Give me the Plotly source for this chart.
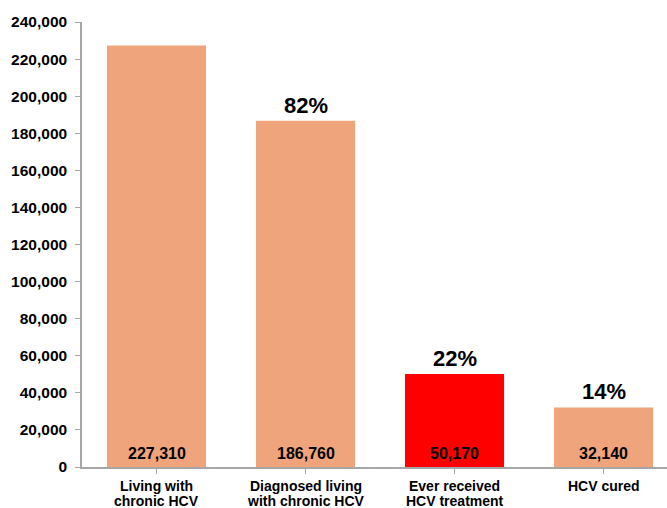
import plotly.graph_objects as go

categories = ["Living with<br>chronic HCV", "Diagnosed living<br>with chronic HCV",
              "Ever received<br>HCV treatment", "HCV cured"]
values = [227310, 186760, 50170, 32140]
pct_labels = ["", "82%", "22%", "14%"]
bar_colors = ["#F0A47C", "#F0A47C", "#FF0000", "#F0A47C"]
y_ticks = list(range(0, 240001, 20000))

fig = go.Figure()
fig.add_trace(go.Bar(x=list(range(len(categories))), y=values, marker_color=bar_colors,
                     marker_line_width=0, width=0.665, hoverinfo="skip"))

font = "Liberation Sans, Arial, sans-serif"
for i, v in enumerate(values):
    fig.add_annotation(x=i, y=0, text=f"<b>{v:,}</b>", showarrow=False,
                       yanchor="middle", yshift=14,
                       font=dict(family=font, size=16, color="black"))
    if pct_labels[i]:
        fig.add_annotation(x=i, y=v, text=f"<b>{pct_labels[i]}</b>", showarrow=False,
                           yanchor="bottom", yshift=1,
                           font=dict(family=font, size=22, color="black"))
    # category label, one annotation per line for tight line spacing
    for j, line in enumerate(categories[i].split("<br>")):
        fig.add_annotation(x=i, y=0, text=f"<b>{line}</b>", showarrow=False,
                           yanchor="middle", yshift=-19 - 14.5 * j,
                           font=dict(family=font, size=14, color="black"))

fig.update_layout(
    width=667, height=508,
    margin=dict(l=82, r=0, t=22, b=41),
    plot_bgcolor="white", paper_bgcolor="white",
    showlegend=False,
    font=dict(family=font, size=15, color="black"),
)
fig.update_xaxes(range=[-0.5, 3.426], tickmode="array",
                 tickvals=list(range(len(categories))),
                 showticklabels=False, automargin=False,
                 tickson="boundaries", ticks="outside", ticklen=5, tickcolor="#A6A6A6",
                 showline=True, linecolor="#A6A6A6", linewidth=1.5,
                 showgrid=False, zeroline=False)
fig.update_yaxes(range=[0, 240000], tickmode="array", tickvals=y_ticks,
                 ticktext=[f"<b>{t:,}</b>" for t in y_ticks], automargin=False,
                 ticks="outside", ticklen=5, tickcolor="#A6A6A6",
                 showline=True, linecolor="#A6A6A6", linewidth=1.5,
                 showgrid=False, zeroline=False, ticklabelstandoff=5,
                 tickfont=dict(family=font, size=15.5, color="black"))

fig.write_html("out.html")
